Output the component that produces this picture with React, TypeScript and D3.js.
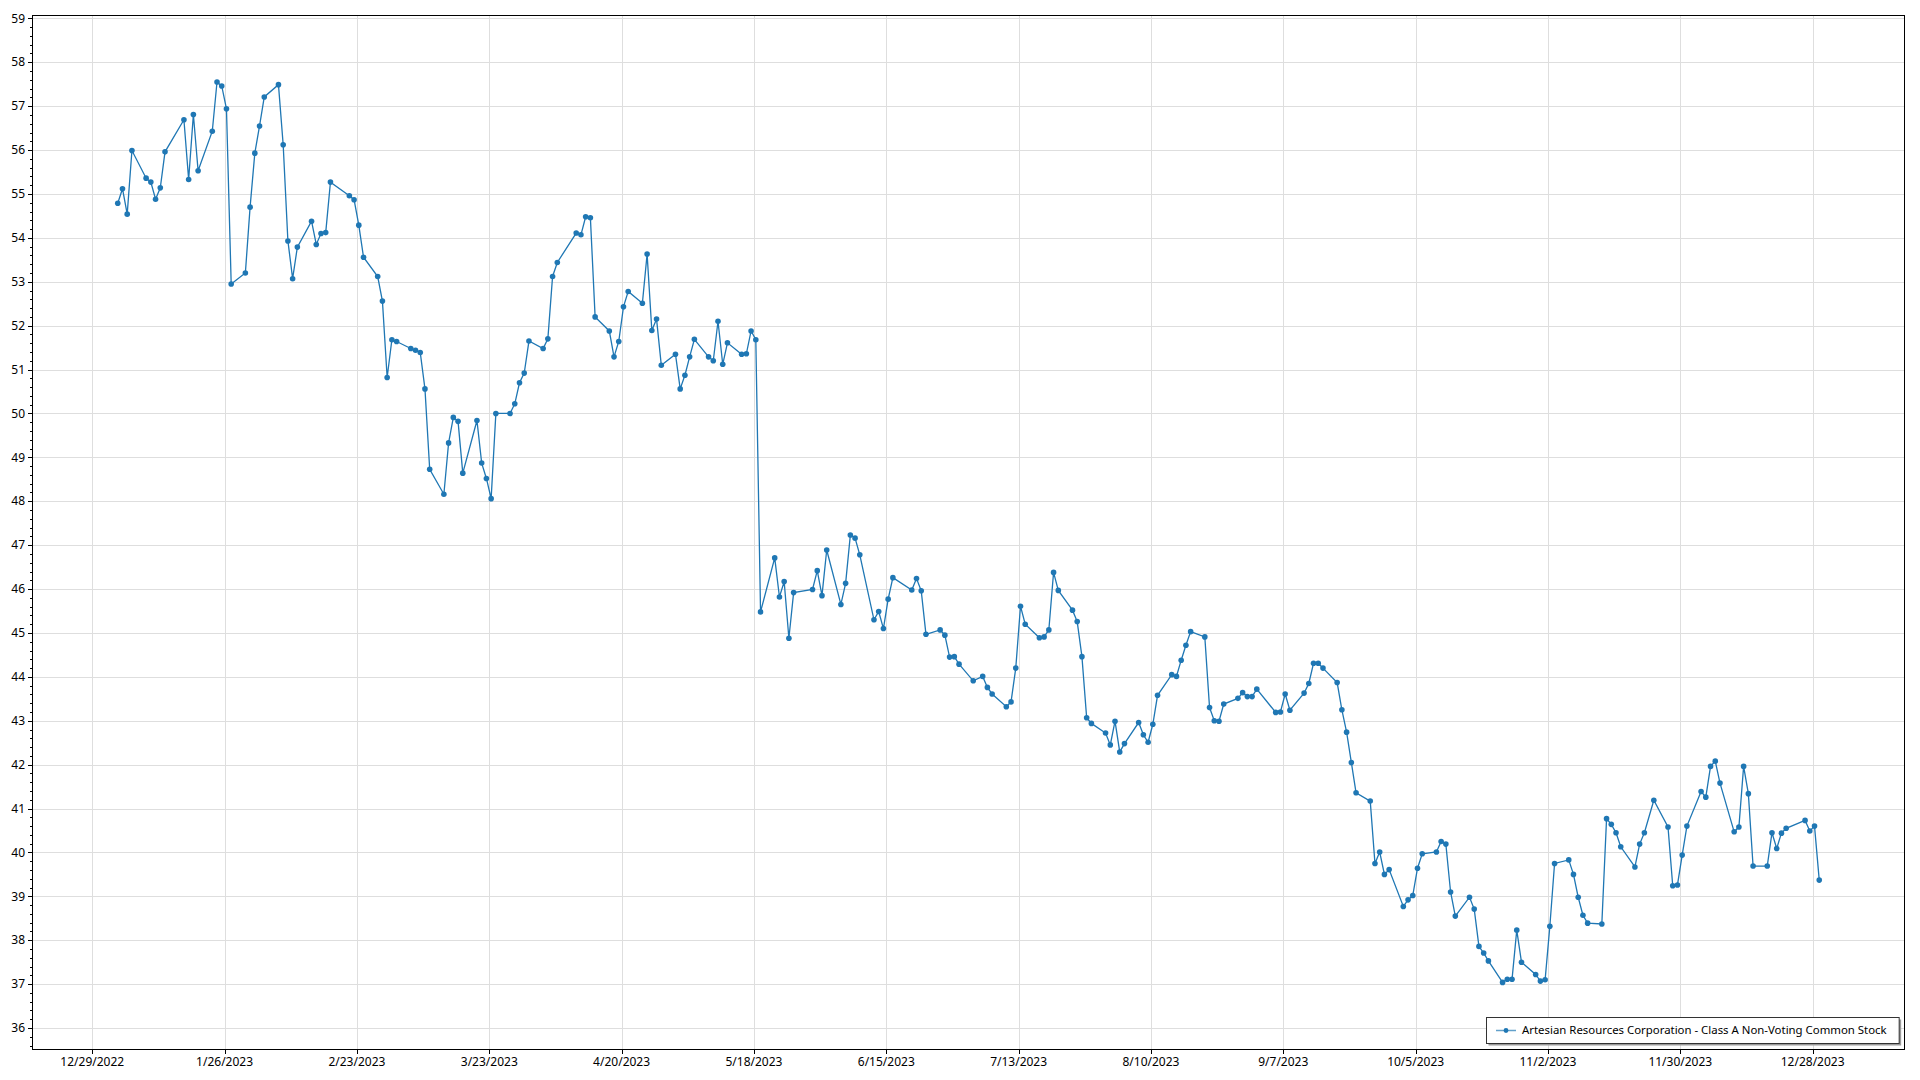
import { useEffect, useRef } from "react";
import * as d3 from "d3";

const SERIES_NAME = "Artesian Resources Corporation - Class A Non-Voting Common Stock";

// trading days, 2023
const DATES = [
  "2023-01-03", "2023-01-04", "2023-01-05", "2023-01-06", "2023-01-09", "2023-01-10", "2023-01-11", "2023-01-12", "2023-01-13",
  "2023-01-17", "2023-01-18", "2023-01-19", "2023-01-20", "2023-01-23", "2023-01-24", "2023-01-25", "2023-01-26", "2023-01-27",
  "2023-01-30", "2023-01-31",
  "2023-02-01", "2023-02-02", "2023-02-03", "2023-02-06", "2023-02-07", "2023-02-08", "2023-02-09", "2023-02-10",
  "2023-02-13", "2023-02-14", "2023-02-15", "2023-02-16", "2023-02-17", "2023-02-21", "2023-02-22", "2023-02-23", "2023-02-24",
  "2023-02-27", "2023-02-28",
  "2023-03-01", "2023-03-02", "2023-03-03", "2023-03-06", "2023-03-07", "2023-03-08", "2023-03-09", "2023-03-10",
  "2023-03-13", "2023-03-14", "2023-03-15", "2023-03-16", "2023-03-17", "2023-03-20", "2023-03-21", "2023-03-22", "2023-03-23",
  "2023-03-24", "2023-03-27", "2023-03-28", "2023-03-29", "2023-03-30", "2023-03-31",
  "2023-04-03", "2023-04-04", "2023-04-05", "2023-04-06", "2023-04-10", "2023-04-11", "2023-04-12", "2023-04-13", "2023-04-14",
  "2023-04-17", "2023-04-18", "2023-04-19", "2023-04-20", "2023-04-21", "2023-04-24", "2023-04-25", "2023-04-26", "2023-04-27",
  "2023-04-28",
  "2023-05-01", "2023-05-02", "2023-05-03", "2023-05-04", "2023-05-05", "2023-05-08", "2023-05-09", "2023-05-10", "2023-05-11",
  "2023-05-12", "2023-05-15", "2023-05-16", "2023-05-17", "2023-05-18", "2023-05-19", "2023-05-22", "2023-05-23", "2023-05-24",
  "2023-05-25", "2023-05-26", "2023-05-30", "2023-05-31",
  "2023-06-01", "2023-06-02", "2023-06-05", "2023-06-06", "2023-06-07", "2023-06-08", "2023-06-09", "2023-06-12", "2023-06-13",
  "2023-06-14", "2023-06-15", "2023-06-16", "2023-06-20", "2023-06-21", "2023-06-22", "2023-06-23", "2023-06-26", "2023-06-27",
  "2023-06-28", "2023-06-29", "2023-06-30",
  "2023-07-03", "2023-07-05", "2023-07-06", "2023-07-07", "2023-07-10", "2023-07-11", "2023-07-12", "2023-07-13", "2023-07-14",
  "2023-07-17", "2023-07-18", "2023-07-19", "2023-07-20", "2023-07-21", "2023-07-24", "2023-07-25", "2023-07-26", "2023-07-27",
  "2023-07-28", "2023-07-31",
  "2023-08-01", "2023-08-02", "2023-08-03", "2023-08-04", "2023-08-07", "2023-08-08", "2023-08-09", "2023-08-10", "2023-08-11",
  "2023-08-14", "2023-08-15", "2023-08-16", "2023-08-17", "2023-08-18", "2023-08-21", "2023-08-22", "2023-08-23", "2023-08-24",
  "2023-08-25", "2023-08-28", "2023-08-29", "2023-08-30", "2023-08-31",
  "2023-09-01", "2023-09-05", "2023-09-06", "2023-09-07", "2023-09-08", "2023-09-11", "2023-09-12", "2023-09-13", "2023-09-14",
  "2023-09-15", "2023-09-18", "2023-09-19", "2023-09-20", "2023-09-21", "2023-09-22", "2023-09-25", "2023-09-26", "2023-09-27",
  "2023-09-28", "2023-09-29",
  "2023-10-02", "2023-10-03", "2023-10-04", "2023-10-05", "2023-10-06", "2023-10-09", "2023-10-10", "2023-10-11", "2023-10-12",
  "2023-10-13", "2023-10-16", "2023-10-17", "2023-10-18", "2023-10-19", "2023-10-20", "2023-10-23", "2023-10-24", "2023-10-25",
  "2023-10-26", "2023-10-27", "2023-10-30", "2023-10-31",
  "2023-11-01", "2023-11-02", "2023-11-03", "2023-11-06", "2023-11-07", "2023-11-08", "2023-11-09", "2023-11-10", "2023-11-13",
  "2023-11-14", "2023-11-15", "2023-11-16", "2023-11-17", "2023-11-20", "2023-11-21", "2023-11-22", "2023-11-24", "2023-11-27",
  "2023-11-28", "2023-11-29", "2023-11-30",
  "2023-12-01", "2023-12-04", "2023-12-05", "2023-12-06", "2023-12-07", "2023-12-08", "2023-12-11", "2023-12-12", "2023-12-13",
  "2023-12-14", "2023-12-15", "2023-12-18", "2023-12-19", "2023-12-20", "2023-12-21", "2023-12-22", "2023-12-26", "2023-12-27",
  "2023-12-28", "2023-12-29",
];

const CLOSES = [
  54.79, 55.12, 54.54, 55.99, 55.36, 55.27, 54.88, 55.14, 55.96,
  56.69, 55.33, 56.81, 55.53, 56.43, 57.55, 57.46, 56.94, 52.95,
  53.2, 54.7,
  55.93, 56.55, 57.21, 57.49, 56.12, 53.93, 53.07, 53.79,
  54.38, 53.85, 54.1, 54.12, 55.27, 54.96, 54.87, 54.29, 53.56,
  53.12, 52.56,
  50.82, 51.68, 51.64, 51.48, 51.44, 51.39, 50.56, 48.73,
  48.16, 49.33, 49.91, 49.82, 48.64, 49.84, 48.87, 48.52, 48.06,
  50.0, 50.0, 50.22, 50.7, 50.92, 51.65,
  51.48, 51.7, 53.12, 53.44, 54.11, 54.07, 54.48, 54.46, 52.2,
  51.88, 51.29, 51.64, 52.43, 52.78, 52.51, 53.63, 51.89, 52.15,
  51.1,
  51.35, 50.56, 50.87, 51.29, 51.69, 51.29, 51.2, 52.1, 51.12,
  51.61, 51.35, 51.36, 51.88, 51.68, 45.48, 46.71, 45.82, 46.17,
  44.88, 45.92, 45.99, 46.42,
  45.85, 46.89, 45.65, 46.13, 47.23, 47.16, 46.78, 45.3, 45.49,
  45.1, 45.77, 46.26, 45.98, 46.24, 45.96, 44.97, 45.07, 44.95,
  44.45, 44.46, 44.29,
  43.91, 44.01, 43.76, 43.61, 43.32, 43.43, 44.2, 45.61, 45.2,
  44.89, 44.91, 45.07, 46.38, 45.97, 45.52, 45.26, 44.46, 43.07,
  42.94, 42.72,
  42.45, 42.99, 42.29, 42.48, 42.96, 42.68, 42.51, 42.92, 43.58,
  44.05, 44.01, 44.38, 44.72, 45.03, 44.91, 43.3, 43.0, 42.99,
  43.38, 43.51, 43.64, 43.55, 43.55,
  43.72, 43.19, 43.2, 43.61, 43.24, 43.63, 43.85, 44.31, 44.31,
  44.2, 43.87, 43.25, 42.74, 42.05, 41.36, 41.17, 39.75, 40.01,
  39.5, 39.61,
  38.77, 38.92, 39.02, 39.64, 39.97, 40.01, 40.25, 40.19, 39.1,
  38.55, 38.98, 38.71, 37.86, 37.71, 37.53, 37.04, 37.11, 37.11,
  38.23, 37.5, 37.22, 37.07,
  37.1, 38.32, 39.75, 39.83, 39.5, 38.98, 38.57, 38.39, 38.37,
  40.77, 40.64, 40.45, 40.13, 39.67, 40.19, 40.45, 41.19, 40.58,
  39.24, 39.26, 39.94,
  40.6, 41.39, 41.26, 41.96, 42.08, 41.58, 40.47, 40.58, 41.96,
  41.34, 39.69, 39.69, 40.45, 40.09, 40.44, 40.55, 40.73, 40.49,
  40.6, 39.37,
];

const X_TICKS = [
  "12/29/2022", "1/26/2023", "2/23/2023", "3/23/2023", "4/20/2023", "5/18/2023", "6/15/2023",
  "7/13/2023", "8/10/2023", "9/7/2023", "10/5/2023", "11/2/2023", "11/30/2023", "12/28/2023",
];

const Y_TICKS = [36, 37, 38, 39, 40, 41, 42, 43, 44, 45, 46, 47, 48, 49, 50, 51, 52, 53, 54, 55, 56, 57, 58, 59];
const Y_RANGE = [35.5, 59.077];

const W = 1920;
const H = 1080;
const FONT = "'Segoe UI', 'Noto Sans', sans-serif";
const BLUE = "#1f77b4";

export default function App() {
  const svgRef = useRef<SVGSVGElement>(null);

  useEffect(() => {
    document.body.style.margin = "0";
    if (!svgRef.current) return;

    const margin = { top: 15, right: 15, bottom: 30, left: 32 };
    const width = W - margin.left - margin.right;
    const height = H - margin.top - margin.bottom;

    d3.select(svgRef.current).selectAll("*").remove();
    const svg = d3.select(svgRef.current)
      .append("g")
      .attr("transform", `translate(${margin.left},${margin.top})`);

    // samples are stamped at market open
    const data = DATES.map((d, i) => ({ date: new Date(`${d}T09:30:00`), value: CLOSES[i] }));
    const [t0, t1] = d3.extent(data, (d) => d.date) as [Date, Date];
    const pad = (t1.getTime() - t0.getTime()) * 0.0504;

    const x = d3.scaleTime()
      .domain([new Date(t0.getTime() - pad), new Date(t1.getTime() + pad)])
      .range([0, width]);
    const y = d3.scaleLinear().domain(Y_RANGE).range([height, 0]);

    const parseTick = d3.timeParse("%m/%d/%Y");
    const xTicks = X_TICKS.map((t) => ({ label: t, date: parseTick(t)! }));

    // grid
    svg.append("g")
      .selectAll("line")
      .data(xTicks)
      .join("line")
      .attr("x1", (d) => Math.round(x(d.date)) + 0.5)
      .attr("x2", (d) => Math.round(x(d.date)) + 0.5)
      .attr("y1", 0)
      .attr("y2", height)
      .attr("stroke", "#dedede");
    svg.append("g")
      .selectAll("line")
      .data(Y_TICKS)
      .join("line")
      .attr("x1", 0)
      .attr("x2", width)
      .attr("y1", (d) => Math.round(y(d)) + 0.5)
      .attr("y2", (d) => Math.round(y(d)) + 0.5)
      .attr("stroke", "#dedede");

    // y axis
    const minor = d3.range(Math.ceil(Y_RANGE[0] / 0.2) * 0.2, Y_RANGE[1], 0.2);
    svg.append("g")
      .selectAll("line")
      .data(minor)
      .join("line")
      .attr("x1", -2)
      .attr("x2", 0)
      .attr("y1", (d) => Math.round(y(d)) + 0.5)
      .attr("y2", (d) => Math.round(y(d)) + 0.5)
      .attr("stroke", "#000");
    const yAx = svg.append("g");
    yAx.selectAll("line")
      .data(Y_TICKS)
      .join("line")
      .attr("x1", -4)
      .attr("x2", 0)
      .attr("y1", (d) => Math.round(y(d)) + 0.5)
      .attr("y2", (d) => Math.round(y(d)) + 0.5)
      .attr("stroke", "#000");
    yAx.selectAll("text")
      .data(Y_TICKS)
      .join("text")
      .attr("x", -7)
      .attr("y", (d) => y(d))
      .attr("dy", "0.35em")
      .attr("text-anchor", "end")
      .attr("font-family", FONT)
      .attr("font-size", "12px")
      .attr("fill", "#000")
      .text((d) => d);

    // x axis
    const xAx = svg.append("g").attr("transform", `translate(0,${height})`);
    xAx.selectAll("line")
      .data(xTicks)
      .join("line")
      .attr("x1", (d) => Math.round(x(d.date)) + 0.5)
      .attr("x2", (d) => Math.round(x(d.date)) + 0.5)
      .attr("y1", 0)
      .attr("y2", 4)
      .attr("stroke", "#000");
    xAx.selectAll("text")
      .data(xTicks)
      .join("text")
      .attr("x", (d) => x(d.date))
      .attr("y", 16)
      .attr("text-anchor", "middle")
      .attr("font-family", FONT)
      .attr("font-size", "12px")
      .attr("fill", "#000")
      .text((d) => d.label);

    // frame
    svg.append("rect")
      .attr("x", 0.5)
      .attr("y", 0.5)
      .attr("width", width - 1)
      .attr("height", height - 1)
      .attr("fill", "none")
      .attr("stroke", "#000");

    // series
    const line = d3.line<{ date: Date; value: number }>()
      .x((d) => x(d.date))
      .y((d) => y(d.value));
    svg.append("path")
      .datum(data)
      .attr("d", line)
      .attr("fill", "none")
      .attr("stroke", BLUE)
      .attr("stroke-width", 1.3);
    svg.append("g")
      .selectAll("circle")
      .data(data)
      .join("circle")
      .attr("cx", (d) => x(d.date))
      .attr("cy", (d) => y(d.value))
      .attr("r", 2.8)
      .attr("fill", BLUE);

    // legend
    const lg = svg.append("g");
    const label = lg.append("text")
      .attr("font-family", FONT)
      .attr("font-size", "11.4px")
      .attr("fill", "#000")
      .attr("dy", "0.35em")
      .text(SERIES_NAME);
    const textW = (label.node() as SVGTextElement).getComputedTextLength();
    const boxW = 10 + 20 + 6 + textW + 12;
    const boxH = 26;
    const bx = Math.round(width - 6 - boxW);
    const by = Math.round(height - 7 - boxH);
    lg.insert("rect", "text")
      .attr("x", bx + 2.5)
      .attr("y", by + 2.5)
      .attr("width", boxW)
      .attr("height", boxH)
      .attr("fill", "#9a9a9a");
    lg.insert("rect", "text")
      .attr("x", bx + 0.5)
      .attr("y", by + 0.5)
      .attr("width", boxW)
      .attr("height", boxH)
      .attr("fill", "#fff")
      .attr("stroke", "#333");
    const cy = by + boxH / 2 + 0.5;
    lg.append("line")
      .attr("x1", bx + 10)
      .attr("x2", bx + 30)
      .attr("y1", cy)
      .attr("y2", cy)
      .attr("stroke", BLUE)
      .attr("stroke-opacity", 0.7)
      .attr("stroke-width", 1.5);
    lg.append("circle")
      .attr("cx", bx + 20)
      .attr("cy", cy)
      .attr("r", 2.4)
      .attr("fill", BLUE);
    label.attr("x", bx + 36).attr("y", cy);
  }, []);

  return <svg ref={svgRef} width={W} height={H} style={{ display: "block", background: "#fff" }} />;
}
